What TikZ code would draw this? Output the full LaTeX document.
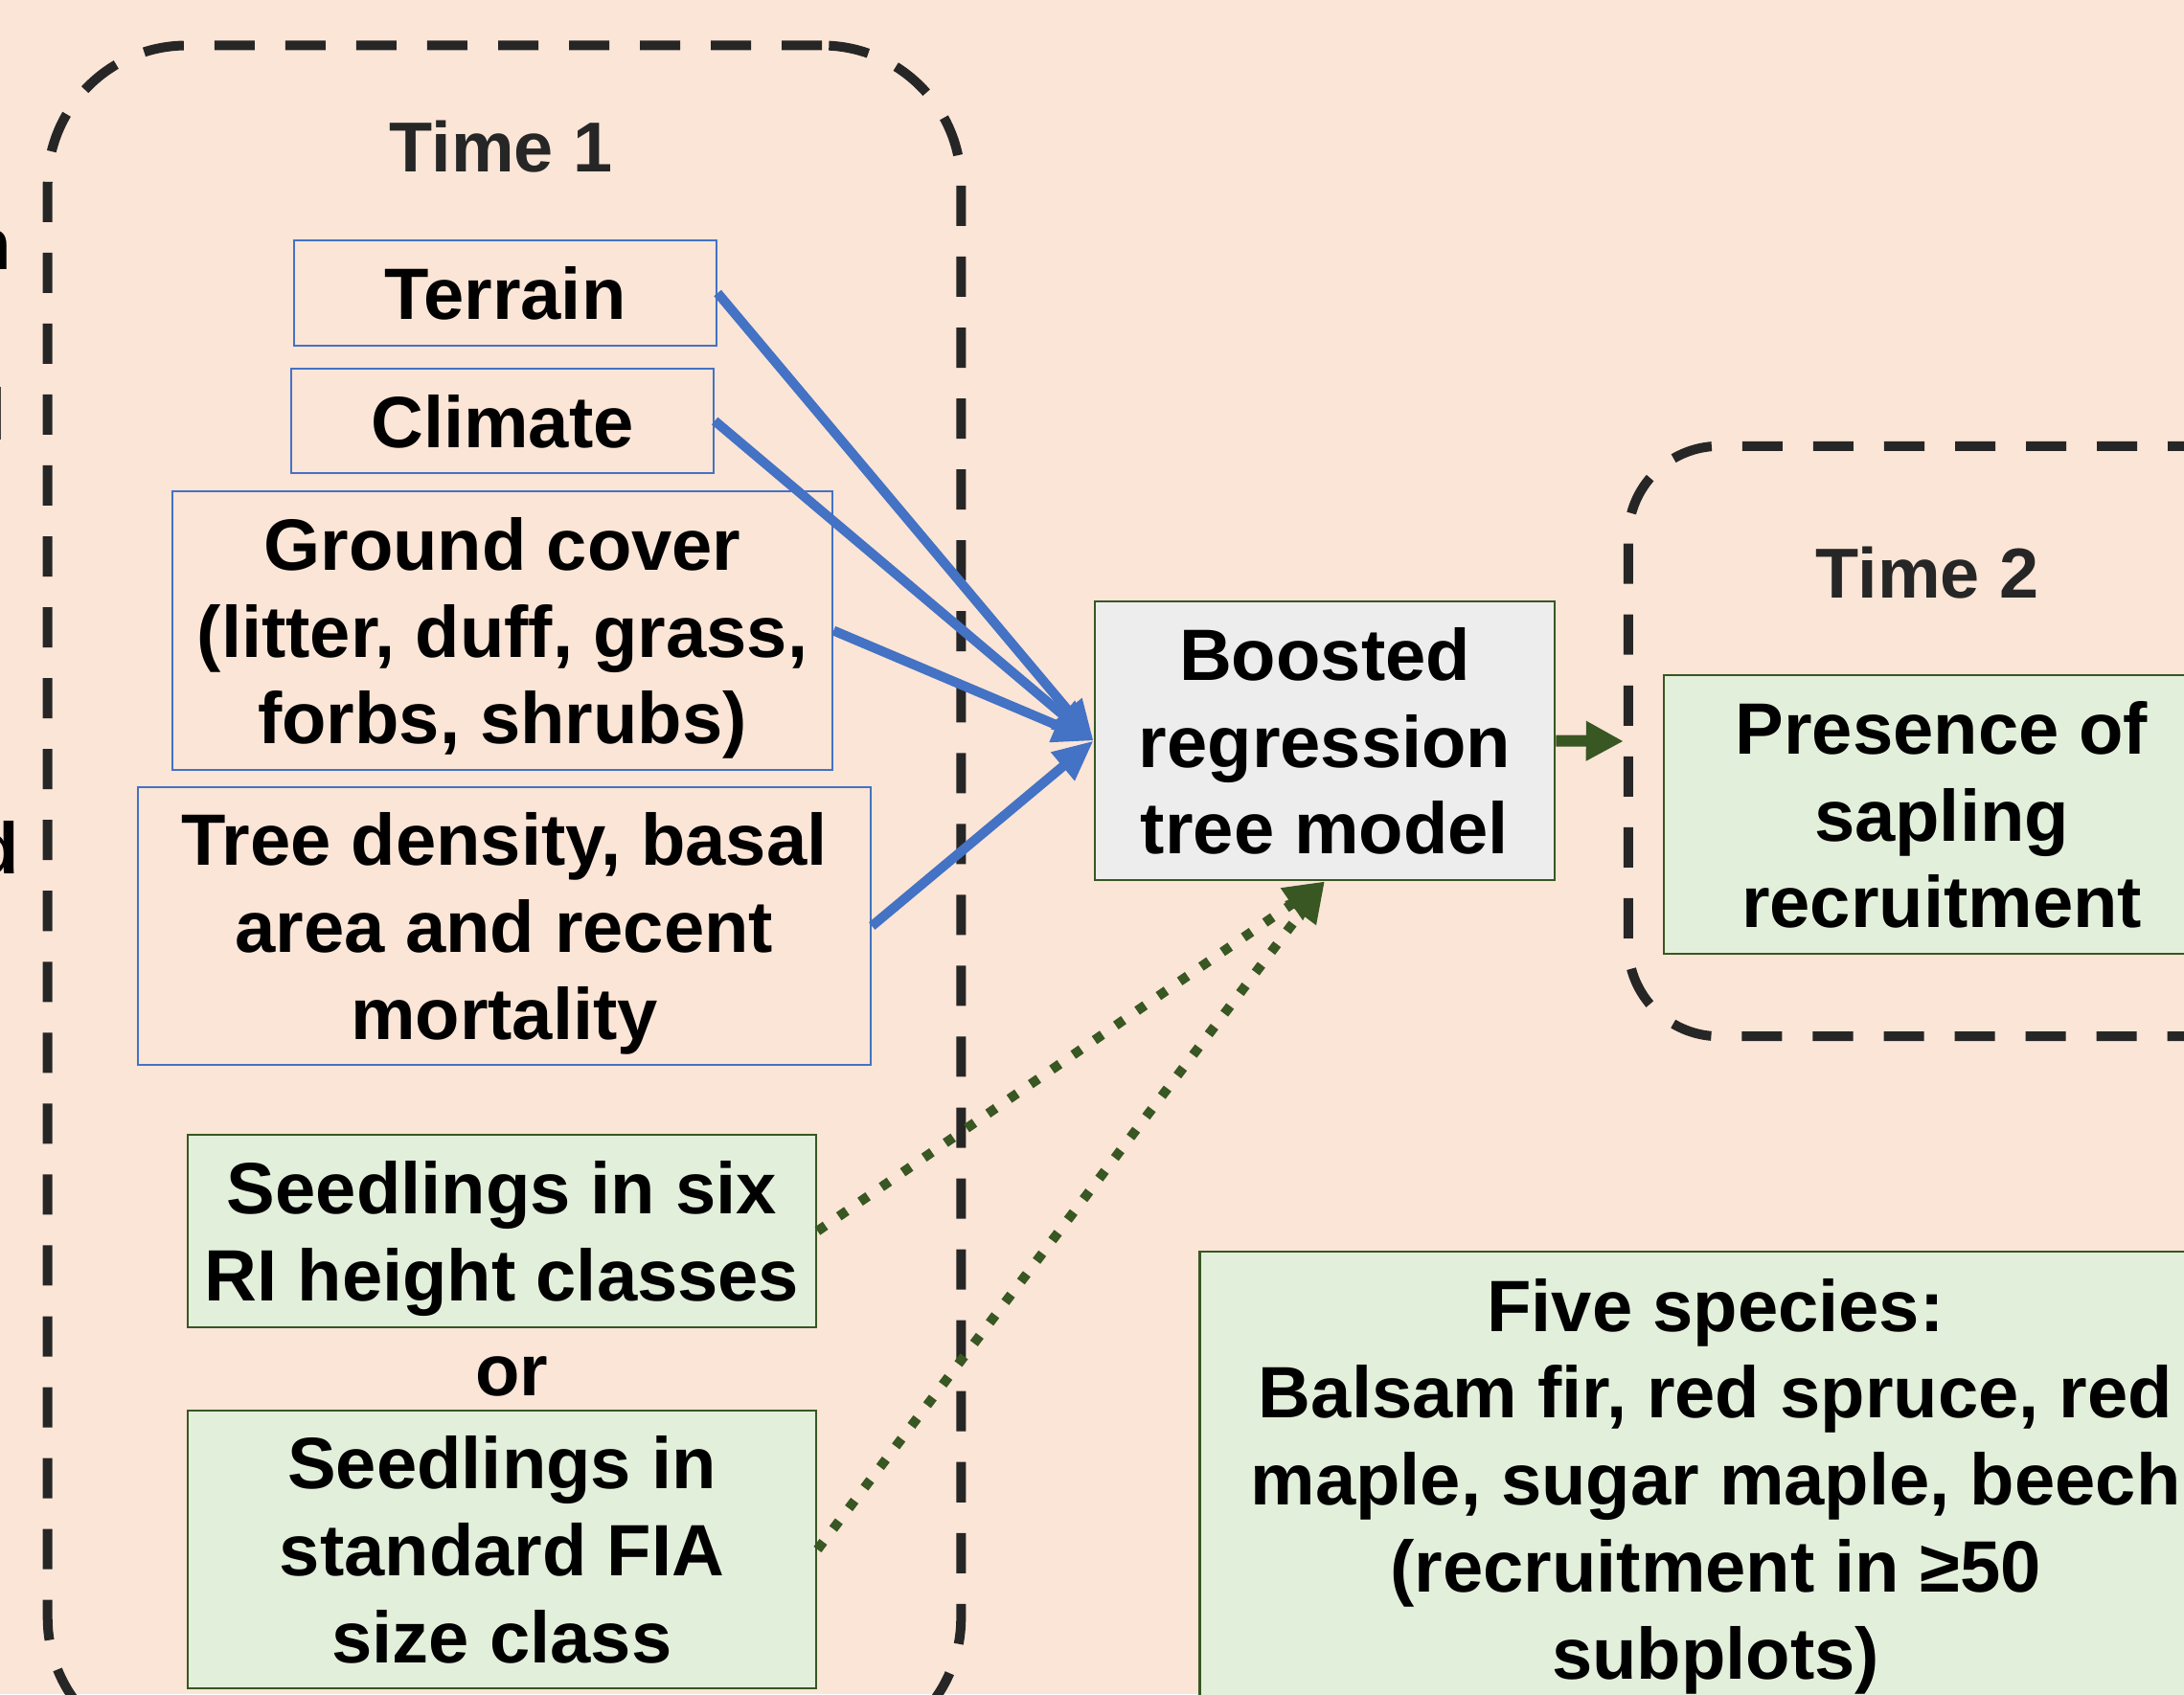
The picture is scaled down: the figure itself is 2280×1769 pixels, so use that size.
\documentclass[tikz,border=0pt]{standalone}
\usepackage{fontspec}
\setmainfont{Liberation Sans}
\usetikzlibrary{arrows.meta}
\definecolor{peach}{HTML}{FBE5D6}
\definecolor{boxblue}{HTML}{4472C4}
\definecolor{boxgreen}{HTML}{385723}
\definecolor{greenfill}{HTML}{E2EFDA}
\definecolor{greyfill}{HTML}{EDEDED}
\definecolor{outline}{HTML}{262626}

\begin{document}
\begin{tikzpicture}[x=0.01cm,y=-0.01cm,
  txt/.style = {font=\bfseries\fontsize{21.6}{25.8}\selectfont, align=center, inner sep=0pt, text depth=0pt},
  bluebox/.style = {txt, draw=boxblue, line width=0.02cm},
  greenbox/.style = {txt, draw=boxgreen, fill=greenfill, line width=0.025cm},
  modelbox/.style = {txt, draw=boxgreen, fill=greyfill, line width=0.025cm},
  timebox/.style = {draw=outline, line width=0.1cm, dash pattern=on 0.42cm off 0.32cm},
  timelabel/.style = {txt, font=\bfseries\fontsize{21}{25.8}\selectfont, text=outline},
  bluearrow/.style = {draw=boxblue, line width=0.1cm, -{Triangle[length=0.42cm,width=0.36cm]}},
  dotarrow/.style = {draw=boxgreen, line width=0.1cm, dash pattern=on 0.1cm off 0.17cm, -{Triangle[length=0.42cm,width=0.38cm]}},
  solidarrow/.style = {draw=boxgreen, line width=0.12cm, -{Triangle[length=0.39cm,width=0.39cm]}}]
\useasboundingbox (0,0) rectangle (2280,1769);
\fill[peach] (0,0) rectangle (2280,1769);

% cut-off words at the left edge
\node[txt, anchor=base east] (fragn) at (13,281) {n};
\node[txt, anchor=base east] (fragl) at (7,459) {l};
\node[txt, anchor=base east] (fragd) at (21,912) {d};

% time frames
\node[timebox, rounded corners=1.45cm, minimum width=9.53cm, minimum height=17.86cm] (time1) at (526.5,941) {};
\node[timebox, rounded corners=0.95cm, minimum width=7cm, minimum height=6.16cm] (time2) at (2050,774) {};
\node[timelabel] (t1label) at (523,153) {Time 1};
\node[timelabel] (t2label) at (2012,598) {Time 2};

% predictors
\node[bluebox, minimum width=4.41cm, minimum height=1.1cm] (terrain) at (527.5,306) {Terrain};
\node[bluebox, minimum width=4.41cm, minimum height=1.09cm] (climate) at (524.5,439.5) {Climate};
\node[bluebox, minimum width=6.89cm, minimum height=2.91cm] (ground) at (524.5,658.5) {Ground cover\\(litter, duff, grass,\\forbs, shrubs)};
\node[bluebox, minimum width=7.65cm, minimum height=2.9cm] (density) at (526.5,967) {Tree density, basal\\area and recent\\mortality};
\node[greenbox, minimum width=6.56cm, minimum height=2.01cm] (six) at (524,1285.5) {Seedlings in six\\RI height classes};
\node[txt] (orlabel) at (534,1437) {or};
\node[greenbox, minimum width=6.56cm, minimum height=2.9cm] (fia) at (524,1618) {Seedlings in\\standard FIA\\size class};

% model and outcome
\node[modelbox, minimum width=4.8cm, minimum height=2.91cm] (model) at (1383,773.5) {Boosted\\regression\\tree model};
\node[greenbox, minimum width=5.8cm, minimum height=2.91cm] (presence) at (2027,850.5) {Presence of\\sapling\\recruitment};
\node[greenbox, minimum width=10.76cm, minimum height=4.74cm] (species) at (1791,1544) {Five species:\\Balsam fir, red spruce, red\\maple, sugar maple, beech\\(recruitment in ≥50\\subplots)};

\draw[bluearrow] (terrain.east) -- (model.west);
\draw[bluearrow] (climate.east) -- (model.west);
\draw[bluearrow] (ground.east) -- (model.west);
\draw[bluearrow] (density.east) -- (model.west);
\draw[dotarrow] (six.east) -- (model.south);
\draw[dotarrow] (fia.east) -- (model.south);
\draw[solidarrow] (model.east) -- (time2.west);
\end{tikzpicture}
\end{document}
